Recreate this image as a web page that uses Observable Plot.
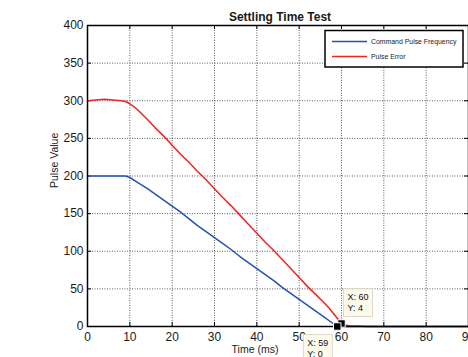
<!DOCTYPE html>
<html>
<head>
<meta charset="utf-8">
<script src="https://cdn.jsdelivr.net/npm/d3@7"></script>
<script src="https://cdn.jsdelivr.net/npm/@observablehq/plot@0.6"></script>
<style>
  html, body { margin: 0; padding: 0; background: #fff; overflow: hidden; }
  #chart { width: 468px; height: 357px; }
</style>
</head>
<body>
<div id="chart"></div>
<script>
const title = "Settling Time Test";
const xLabel = "Time (ms)";
const yLabel = "Pulse Value";
const seriesNames = ["Command Pulse Frequency", "Pulse Error"];
const seriesColors = ["#2452b4", "#ee2424"];
const xTicks = [0, 10, 20, 30, 40, 50, 60, 70, 80, 90];
const yTicks = [0, 50, 100, 150, 200, 250, 300, 350, 400];

// Command Pulse Frequency
const cmdTime  = [0, 2, 4, 6, 8, 9, 10, 12, 14, 16, 18, 20, 22, 24, 26, 28, 30, 32, 34, 36, 38, 40, 42, 44, 46, 48, 50, 52, 54, 56, 58, 59, 62, 70, 80, 90];
const cmdValue = [200, 200, 200, 200, 200, 200, 198, 191, 184, 176, 168, 160, 152, 143, 134, 126, 118, 110, 102, 93, 85, 77, 69, 61, 52, 44, 36, 28, 20, 12, 4, 0, 0, 0, 0, 0];

// Pulse Error
const errTime  = [0, 2, 4, 6, 8, 9, 10, 11, 12, 14, 16, 18, 20, 22, 24, 26, 28, 30, 32, 34, 36, 38, 40, 42, 44, 46, 48, 50, 52, 54, 56, 57, 58, 59, 60, 61, 62, 64, 66, 70, 80, 90];
const errValue = [300, 301, 302, 301, 300, 299, 296, 292, 287, 276, 264, 253, 241, 229, 218, 206, 195, 183, 171, 160, 148, 136, 124, 112, 101, 89, 77, 65, 53, 42, 31, 25, 18, 11, 4, 1.5, 1, 0.5, 0, 0, 0, 0];

// Data tips
const tipX = [60, 59];
const tipY = [4, 0];

const cmd = cmdTime.map((t, i) => ({t, v: cmdValue[i]}));
const err = errTime.map((t, i) => ({t, v: errValue[i]}));
const tips = tipX.map((x, i) => ({x, y: tipY[i]}));

const W = 468, H = 357, mL = 87, mR = 0, mT = 25, mB = 31;
const plotW = W - mL - mR, plotH = H - mT - mB;
const font = "'Liberation Sans', Arial, Helvetica, sans-serif";

const chart = Plot.plot({
  width: W, height: H,
  marginLeft: mL, marginRight: mR, marginTop: mT, marginBottom: mB,
  style: {fontFamily: font, fontSize: "12px", color: "#1a1a1a", background: "#fff", overflow: "visible"},
  x: {domain: [0, 90], ticks: xTicks},
  y: {domain: [0, 400], ticks: yTicks},
  marks: [
    Plot.gridX(xTicks, {stroke: "#333", strokeOpacity: 0.8, strokeDasharray: "1,1.5"}),
    Plot.gridY(yTicks, {stroke: "#333", strokeOpacity: 0.8, strokeDasharray: "1,1.5"}),
    Plot.tickX(xTicks, {x: d => d, insetTop: plotH - 4, stroke: "#000"}),
    Plot.tickX(xTicks, {x: d => d, insetBottom: plotH - 4, stroke: "#000"}),
    Plot.tickY(yTicks, {y: d => d, insetRight: plotW - 4, stroke: "#000"}),
    Plot.tickY(yTicks, {y: d => d, insetLeft: plotW - 4, stroke: "#000"}),
    Plot.axisX(xTicks, {anchor: "bottom", tickSize: 0, tickPadding: 6, label: null, fontSize: 12}),
    Plot.axisY(yTicks, {anchor: "left", tickSize: 0, tickPadding: 4, label: null, fontSize: 12}),
    Plot.line(cmd, {x: "t", y: "v", stroke: seriesColors[0], strokeWidth: 1.5}),
    Plot.line(err, {x: "t", y: "v", stroke: seriesColors[1], strokeWidth: 1.5}),
    Plot.frame({stroke: "#000", strokeWidth: 1.5}),
    Plot.text([title], {frameAnchor: "top", dx: 2, dy: -13, fontSize: 12, fontWeight: "bold", fill: "#1a1a1a"}),
    Plot.text([xLabel], {frameAnchor: "bottom", dx: -23, dy: 26, fontSize: 10.5, fill: "#1a1a1a"}),
    Plot.text([yLabel], {frameAnchor: "left", dx: -33, dy: 12, rotate: -90, fontSize: 10.5, fill: "#1a1a1a"}),
    Plot.dot(tips, {x: "x", y: "y", symbol: "square", r: 4.2, fill: "#000", stroke: "#fff", strokeWidth: 1}),
    Plot.text(tips.slice(0, 1), {x: "x", y: "y", text: d => `X: ${d.x}\nY: ${d.y}`, textAnchor: "start", lineAnchor: "top", dx: 6, dy: -32, fontSize: 9, lineHeight: 1.3, fill: "#111"}),
    Plot.text(tips.slice(1, 2), {x: "x", y: "y", text: d => `X: ${d.x}\nY: ${d.y}`, textAnchor: "start", lineAnchor: "top", dx: -30, dy: 11, fontSize: 9, lineHeight: 1.25, fill: "#111"})
  ]
});

document.getElementById("chart").appendChild(chart);

const svg = d3.select(chart);

// Data tip boxes behind the tip texts (same transform as the text)
svg.selectAll("text").each(function() {
  const t = this.textContent;
  if (/^X: \d+/.test(t)) {
    const b = this.getBBox();
    d3.select(this.parentNode).insert("rect", () => this)
      .attr("transform", this.getAttribute("transform"))
      .attr("x", b.x - 4).attr("y", b.y - 3)
      .attr("width", b.width + 8).attr("height", b.height + 6)
      .attr("fill", "#fcfaea").attr("stroke", "#d6d2bc").attr("stroke-width", 0.8);
  }
});

// Legend (MATLAB style box in the upper right of the axes)
const lg = svg.append("g").attr("font-family", font).attr("font-size", 6.9)
  .attr("fill", "#1a1a1a").attr("text-anchor", "start");
lg.append("rect").attr("x", 325).attr("y", 30.5).attr("width", 138).attr("height", 36.5)
  .attr("fill", "#fff").attr("stroke", "#000").attr("stroke-width", 1.5);
seriesNames.forEach((name, i) => {
  const y = 41.5 + i * 15;
  lg.append("line").attr("x1", 332).attr("x2", 367).attr("y1", y).attr("y2", y)
    .attr("stroke", seriesColors[i]).attr("stroke-width", 1.5);
  lg.append("text").attr("x", 371).attr("y", y + 2.4).attr("text-anchor", "start").text(name);
});
</script>
</body>
</html>
